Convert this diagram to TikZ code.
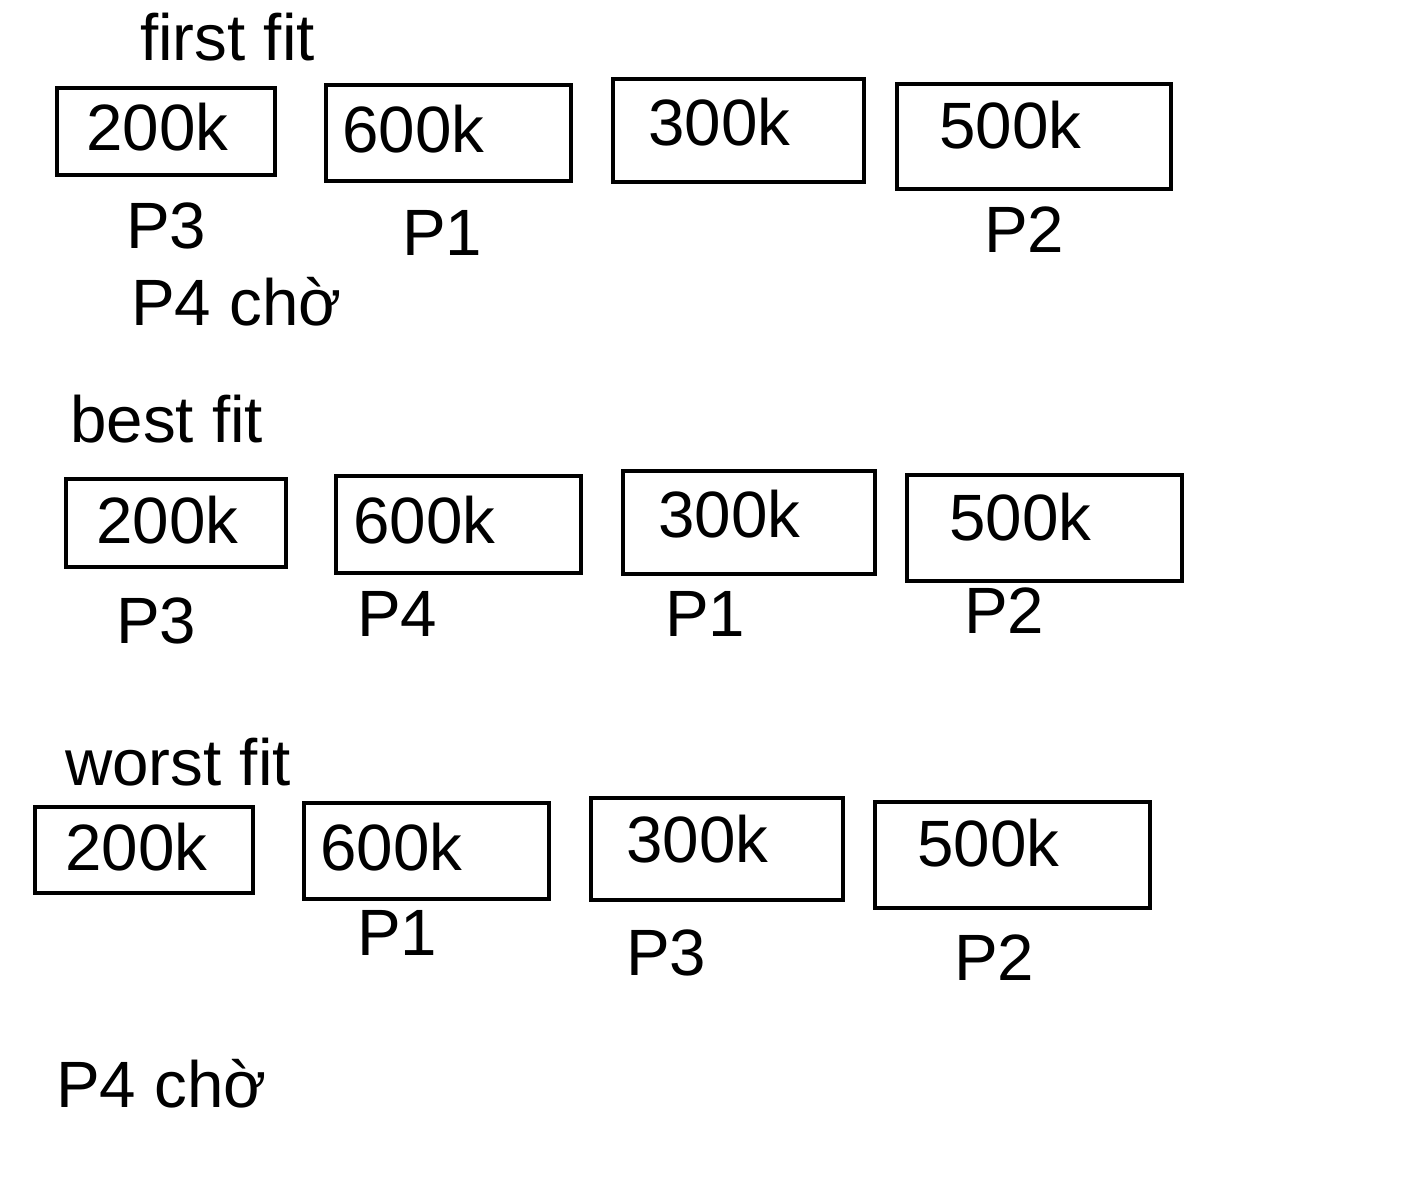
\documentclass[tikz,border=0pt]{standalone}
\usepackage{fontspec}
\setmainfont{Liberation Sans}
\begin{document}
\begin{tikzpicture}[x=1pt,y=-1pt,
  mem/.style={draw, line width=4pt, anchor=north west, inner sep=0pt, outer sep=0pt},
  lbl/.style={anchor=base west, inner sep=0pt, font=\fontsize{65.5}{72}\selectfont}]
\useasboundingbox[fill=white] (0,0) rectangle (1428,1192);
% first fit
\node[lbl] (t1) at (140,60) {first fit};
\node[mem, minimum width=218pt, minimum height=87pt] (b11) at (57,88) {};
\node[mem, minimum width=245pt, minimum height=96pt] (b12) at (326,85) {};
\node[mem, minimum width=251pt, minimum height=103pt] (b13) at (613,79) {};
\node[mem, minimum width=274pt, minimum height=105pt] (b14) at (897,84) {};
\node[lbl] (s11) at (86,150) {200k};
\node[lbl] (s12) at (342,152) {600k};
\node[lbl] (s13) at (648,145) {300k};
\node[lbl] (s14) at (939,148) {500k};
\node[lbl] (p11) at (126,248) {P3};
\node[lbl] (p12) at (402,255) {P1};
\node[lbl] (p14) at (984,252) {P2};
\node[lbl] (w1) at (131,325) {P4 chờ};
% best fit
\node[lbl] (t2) at (70,442) {best fit};
\node[mem, minimum width=220pt, minimum height=88pt] (b21) at (66,479) {};
\node[mem, minimum width=245pt, minimum height=97pt] (b22) at (336,476) {};
\node[mem, minimum width=252pt, minimum height=103pt] (b23) at (623,471) {};
\node[mem, minimum width=275pt, minimum height=106pt] (b24) at (907,475) {};
\node[lbl] (s21) at (96,543) {200k};
\node[lbl] (s22) at (353,543) {600k};
\node[lbl] (s23) at (658,537) {300k};
\node[lbl] (s24) at (949,540) {500k};
\node[lbl] (p21) at (116,643) {P3};
\node[lbl] (p22) at (357,636) {P4};
\node[lbl] (p23) at (665,636) {P1};
\node[lbl] (p24) at (964,633) {P2};
% worst fit
\node[lbl] (t3) at (65,785) {worst fit};
\node[mem, minimum width=218pt, minimum height=86pt] (b31) at (35,807) {};
\node[mem, minimum width=245pt, minimum height=96pt] (b32) at (304,803) {};
\node[mem, minimum width=252pt, minimum height=102pt] (b33) at (591,798) {};
\node[mem, minimum width=275pt, minimum height=106pt] (b34) at (875,802) {};
\node[lbl] (s31) at (65,870) {200k};
\node[lbl] (s32) at (320,870) {600k};
\node[lbl] (s33) at (626,862) {300k};
\node[lbl] (s34) at (917,866) {500k};
\node[lbl] (p32) at (357,955) {P1};
\node[lbl] (p33) at (626,975) {P3};
\node[lbl] (p34) at (954,980) {P2};
\node[lbl] (w3) at (56,1107) {P4 chờ};
\end{tikzpicture}
\end{document}
